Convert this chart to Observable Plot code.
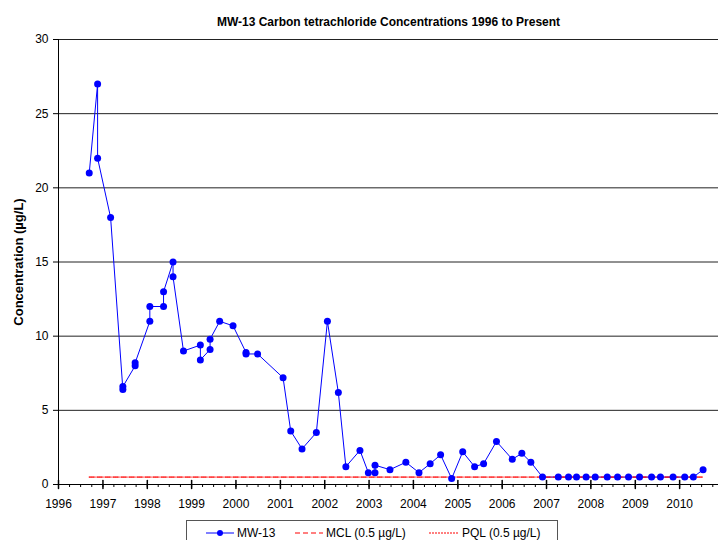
<!DOCTYPE html>
<html>
<head>
<meta charset="utf-8">
<script src="https://cdn.jsdelivr.net/npm/d3@7"></script>
<script src="https://cdn.jsdelivr.net/npm/@observablehq/plot@0.6"></script>
<style>
  body { margin: 0; background: #fff; font-family: Arial, "Liberation Sans", sans-serif; }
  #wrap { position: relative; width: 719px; height: 540px; overflow: hidden; }
  #legend { position: absolute; left: 186px; top: 520px; width: 372px; height: 26px; border: 1px solid #555; box-sizing: border-box; font-size: 12px; }
  .item { position: absolute; top: 3px; height: 18px; display: flex; align-items: center; }
  .item svg { margin-right: 3px; }
</style>
</head>
<body>
<div id="wrap">
  <div id="chart"></div>
  <div id="legend">
    <div class="item" style="left:19px"><svg width="28" height="10"><line x1="0" y1="5" x2="28" y2="5" stroke="#0000ff" stroke-width="1"/><circle cx="14" cy="5" r="3" fill="#0000ff"/></svg>MW-13</div>
    <div class="item" style="left:108px"><svg width="28" height="10"><line x1="0" y1="5" x2="28" y2="5" stroke="#ff0000" stroke-width="1.2" stroke-dasharray="5,3"/></svg>MCL (0.5 µg/L)</div>
    <div class="item" style="left:242px"><svg width="30" height="10"><line x1="0" y1="5" x2="30" y2="5" stroke="#ff0000" stroke-width="1.2" stroke-dasharray="2,1"/></svg>PQL (0.5 µg/L)</div>
  </div>
</div>
<script>
const title = "MW-13 Carbon tetrachloride Concentrations 1996 to Present";
const yLabel = "Concentration (µg/L)";

const sampleDates = [
  "1996-09-10","1996-11-18","1996-11-18","1997-03-05","1997-06-14","1997-06-14",
  "1997-09-23","1997-09-23","1998-01-22","1998-01-22","1998-05-15","1998-05-15",
  "1998-08-01","1998-08-01","1998-10-26","1999-03-14","1999-03-14","1999-06-02",
  "1999-06-02","1999-08-20","1999-12-08","2000-03-24","2000-03-24","2000-06-27",
  "2001-01-23","2001-03-27","2001-06-28","2001-10-24","2002-01-23","2002-04-23",
  "2002-06-24","2002-10-18","2002-12-26","2003-02-19","2003-02-19","2003-06-22",
  "2003-10-31","2004-02-16","2004-05-18","2004-08-12","2004-11-11","2005-02-10",
  "2005-05-19","2005-08-01","2005-11-15","2006-03-25","2006-06-12","2006-08-25",
  "2006-11-29","2007-04-08","2007-07-01","2007-09-05","2007-11-23","2008-02-06",
  "2008-05-15","2008-08-08","2008-11-06","2009-02-05","2009-05-15","2009-07-27",
  "2009-11-08","2010-02-12","2010-04-24","2010-07-13"
];
const mw13 = [
  21, 27, 22, 18, 6.4, 6.6,
  8.0, 8.2, 11, 12, 12, 13,
  15, 14, 9.0, 9.4, 8.4, 9.1,
  9.8, 11, 10.7, 8.9, 8.8, 8.8,
  7.2, 3.6, 2.4, 3.5, 11, 6.2,
  1.2, 2.3, 0.8, 0.8, 1.3, 1.0,
  1.5, 0.8, 1.4, 2.0, 0.4, 2.2,
  1.2, 1.4, 2.9, 1.7, 2.1, 1.5,
  0.5, 0.5, 0.5, 0.5, 0.5, 0.5,
  0.5, 0.5, 0.5, 0.5, 0.5, 0.5,
  0.5, 0.5, 0.5, 1.0
];
const limitDates = ["1996-09-10", "2010-07-13"];
const mclValues = [0.5, 0.5];
const pqlValues = [0.5, 0.5];
const yTicks = [0, 5, 10, 15, 20, 25, 30];
const xDomain = ["1996-01-01", "2010-11-17"];

const data = sampleDates.map((d, i) => ({date: new Date(d), value: mw13[i]}));
const mcl = limitDates.map((d, i) => ({date: new Date(d), value: mclValues[i]}));
const pql = limitDates.map((d, i) => ({date: new Date(d), value: pqlValues[i]}));
const x0 = new Date(xDomain[0]), x1 = new Date(xDomain[1]);
const years = d3.utcYear.range(x0, x1);
const quarters = d3.utcMonth.every(3).range(x0, x1);

const tickShape = {draw(ctx, l) { ctx.moveTo(0, 0); ctx.lineTo(0, -l); }};

const chart = Plot.plot({
  width: 719,
  height: 515,
  marginLeft: 58,
  marginRight: 1,
  marginTop: 39,
  marginBottom: 31,
  style: {fontFamily: "Arial, 'Liberation Sans', sans-serif", fontSize: "12px", background: "#fff", color: "#000"},
  x: {type: "utc", domain: [x0, x1]},
  y: {domain: [0, 30]},
  marks: [
    Plot.gridY(yTicks.slice(1), {stroke: "#222", strokeOpacity: 1}),
    Plot.axisY({ticks: yTicks, tickSize: 5, tickPadding: 5, label: null}),
    Plot.axisX({ticks: quarters, tickSize: 3, tickFormat: () => "", label: null}),
    Plot.vector(years, {x: d => d, frameAnchor: "bottom", length: 8, anchor: "middle", shape: tickShape, stroke: "#000"}),
    Plot.axisX({ticks: years, tickSize: 0, tickPadding: 15, tickFormat: d3.utcFormat("%Y"), label: null}),
    Plot.ruleX([x0], {stroke: "#000"}),
    Plot.ruleY([0], {stroke: "#000"}),
    Plot.line(data, {x: "date", y: "value", stroke: "#0000ff", strokeWidth: 1}),
    Plot.line(mcl, {x: "date", y: "value", stroke: "#ff0000", strokeWidth: 1, strokeDasharray: "5,3"}),
    Plot.line(pql, {x: "date", y: "value", stroke: "#ff0000", strokeWidth: 1, strokeDasharray: "1,1", strokeOpacity: 0.7}),
    Plot.dot(data, {x: "date", y: "value", r: 3.5, fill: "#0000ff", stroke: null}),
    Plot.text([title], {frameAnchor: "top", dy: -22, fontWeight: "bold", fontSize: 12, textAnchor: "middle"}),
    Plot.text([yLabel], {frameAnchor: "left", dx: -40, rotate: -90, fontWeight: "bold", fontSize: 13, textAnchor: "middle"})
  ]
});
document.getElementById("chart").appendChild(chart);
</script>
</body>
</html>
